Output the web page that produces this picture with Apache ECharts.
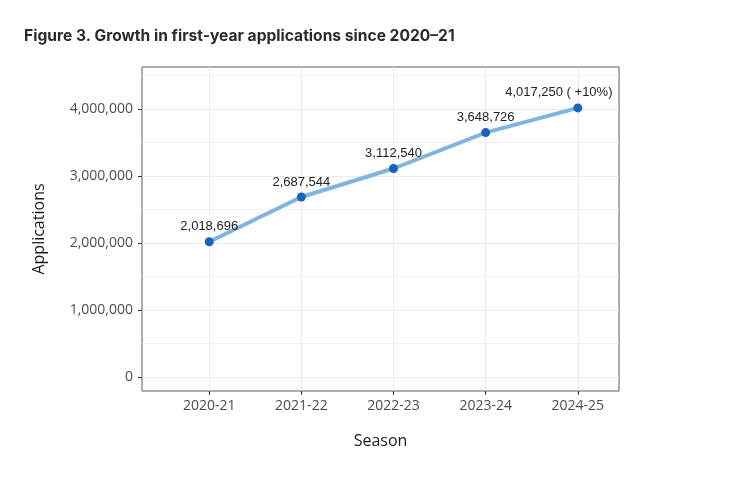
<!DOCTYPE html>
<html>
<head>
<meta charset="utf-8">
<script src="https://cdn.jsdelivr.net/npm/echarts@6/dist/echarts.min.js"></script>
<style>
html,body{margin:0;padding:0;background:#fff;}
#chart{width:740px;height:489px;}
</style>
</head>
<body>
<div id="chart"></div>
<script>
// ---- data ----
const seasons = ['2020-21', '2021-22', '2022-23', '2023-24', '2024-25'];
const applications = [2018696, 2687544, 3112540, 3648726, 4017250];
const pointLabels = ['2,018,696', '2,687,544', '3,112,540', '3,648,726', '4,017,250 ( +10%)'];
const yTicks = [0, 1000000, 2000000, 3000000, 4000000];
const yMinorGrid = [500000, 1500000, 2500000, 3500000, 4500000];
const xTickIdx = [0, 1, 2, 3, 4];

const chart = echarts.init(document.getElementById('chart'), null, {renderer: 'canvas'});

const tickFont = '"Open Sans", sans-serif';
const yMin = -209000, yMax = 4628000;

const option = {
  backgroundColor: '#ffffff',
  animation: false,
  title: {
    text: 'Figure 3. Growth in first-year applications since 2020\u201321',
    left: 19, top: 23,
    textStyle: {fontFamily: 'Inter, sans-serif', fontWeight: 'bold', fontSize: 15.6, color: '#2b2b2b'}
  },
  grid: {
    left: 142, right: 121, top: 67, bottom: 98,
    show: true, borderColor: '#5a5a5a', borderWidth: 1, backgroundColor: 'transparent'
  },
  xAxis: {
    type: 'value',
    min: -0.7295, max: 4.447,
    name: 'Season', nameLocation: 'middle', nameGap: 42,
    nameTextStyle: {fontFamily: tickFont, fontSize: 16, color: '#1a1a1a'},
    axisLine: {show: false, onZero: false},
    axisTick: {show: true, length: 4, customValues: xTickIdx, lineStyle: {color: '#333'}},
    axisLabel: {
      customValues: xTickIdx, margin: 8,
      fontFamily: tickFont, fontSize: 14, color: '#4d4d4d',
      formatter: v => seasons[Math.round(v)]
    },
    splitLine: {show: true, lineStyle: {color: '#ebebeb', width: 1}}
  },
  yAxis: [{
    type: 'value',
    min: yMin, max: yMax,
    name: 'Applications', nameLocation: 'middle', nameGap: 95, nameRotate: 90,
    nameTextStyle: {fontFamily: tickFont, fontSize: 16, color: '#1a1a1a'},
    axisLine: {show: false, onZero: false},
    axisTick: {show: true, length: 4, customValues: yTicks, lineStyle: {color: '#333'}},
    axisLabel: {
      customValues: yTicks, margin: 9,
      fontFamily: tickFont, fontSize: 14, color: '#4d4d4d',
      formatter: v => v.toLocaleString('en-US')
    },
    splitLine: {show: true, lineStyle: {color: '#ebebeb', width: 1}}
  }, {
    type: 'value',
    min: yMin, max: yMax,
    position: 'left',
    axisLine: {show: false, onZero: false},
    axisTick: {show: false, customValues: yMinorGrid},
    axisLabel: {show: false, customValues: yMinorGrid},
    splitLine: {show: true, lineStyle: {color: '#f1f1f1', width: 1}}
  }],
  series: [{
    type: 'line',
    data: applications.map((v, i) => ({
      value: [i, v],
      label: i === applications.length - 1 ? {offset: [-19, 0]} : undefined
    })),
    yAxisIndex: 0,
    lineStyle: {color: '#82b4df', width: 4},
    itemStyle: {color: '#1565c0'},
    symbol: 'circle', symbolSize: 9,
    showSymbol: true,
    label: {
      show: true, position: 'top', distance: 4,
      fontFamily: '"Liberation Sans", Arial, sans-serif', fontSize: 13, color: '#222',
      formatter: p => pointLabels[p.dataIndex]
    },
    z: 5
  }]
};
chart.setOption(option);
</script>
</body>
</html>
